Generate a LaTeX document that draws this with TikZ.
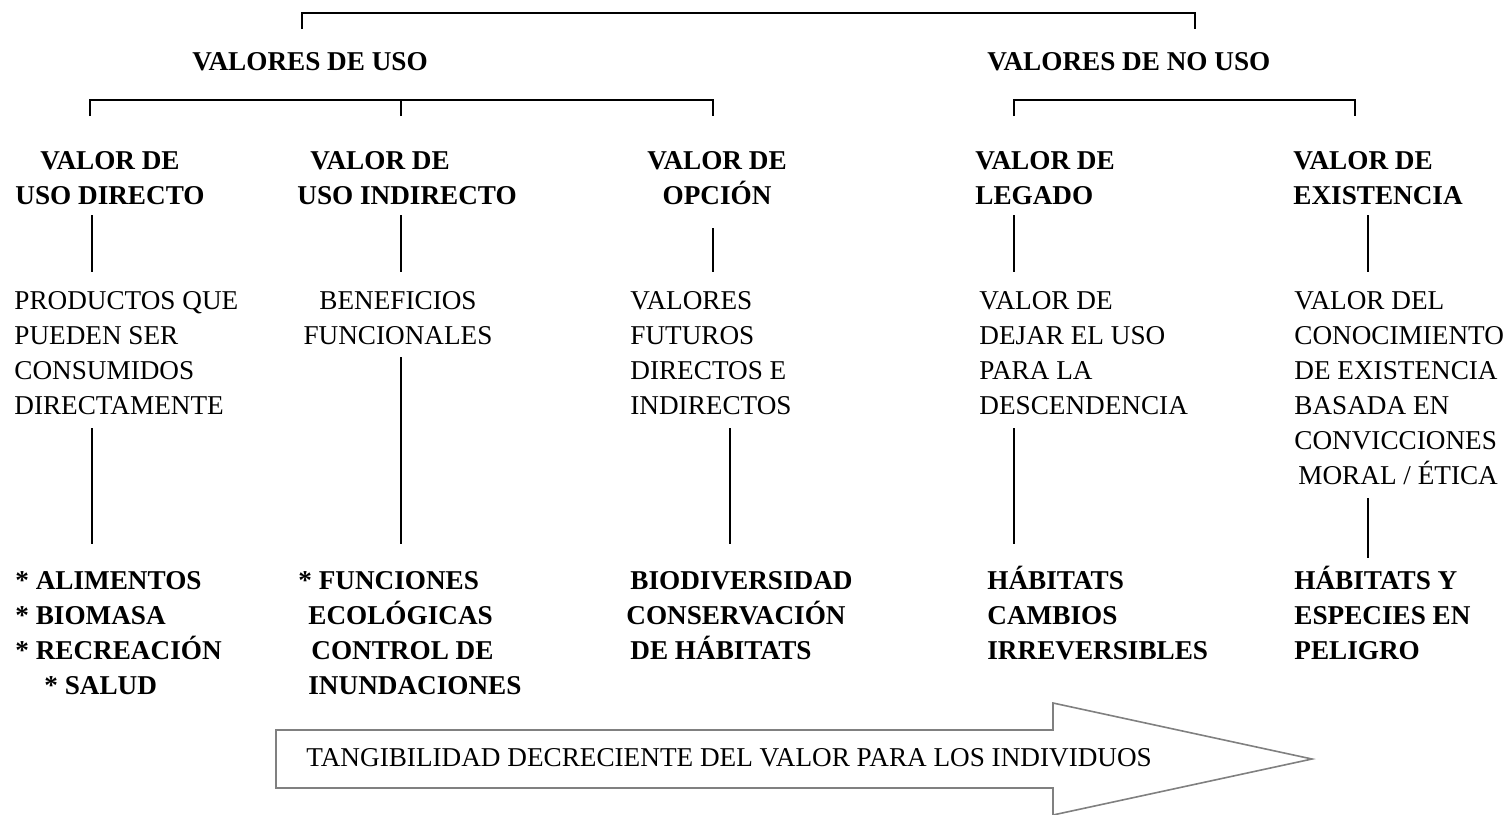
\documentclass[tikz,border=0pt]{standalone}
\usepackage{fontspec}
\setmainfont{Liberation Serif}

\begin{document}
\begin{tikzpicture}[x=0.5pt,y=-0.5pt,
	every node/.style={inner sep=0pt,font=\fontsize{13.6}{17.5}\selectfont},
	hd/.style={font=\fontsize{13.6}{17.5}\selectfont\bfseries},
	cell/.style={anchor=north west,align=left,execute at begin node=\strut},
	link/.style={line width=0.9pt},
	arrowline/.style={draw=black!50,line width=0.8pt}]
	\useasboundingbox (0,0) rectangle (1510,814);

	% first level
	\node[hd,cell] (uso) at (192,45.5) {VALORES DE USO};
	\node[hd,cell] (nouso) at (987,45.5) {VALORES DE NO USO};

	% second level
	\node[hd,cell,anchor=north,align=center] (vdir) at (110,151.5) {VALOR DE\\USO DIRECTO};
	\node[hd,cell] (vind) at (297,151.5) {\hspace*{6.5pt}VALOR DE\\USO INDIRECTO};
	\node[hd,cell,anchor=north,align=center] (vopc) at (717,151.5) {VALOR DE\\OPCIÓN};
	\node[hd,cell] (vleg) at (975,151.5) {VALOR DE\\LEGADO};
	\node[hd,cell] (vexi) at (1293,151.5) {VALOR DE\\EXISTENCIA};

	% third level
	\node[cell] (prod) at (14,291.5) {PRODUCTOS QUE\\PUEDEN SER\\CONSUMIDOS\\DIRECTAMENTE};
	\node[cell,anchor=north,align=center] (bene) at (398,291.5) {BENEFICIOS\\FUNCIONALES};
	\node[cell] (futu) at (630,291.5) {VALORES\\FUTUROS\\DIRECTOS E\\INDIRECTOS};
	\node[cell] (dejar) at (979,291.5) {VALOR DE\\DEJAR EL USO\\PARA LA\\DESCENDENCIA};
	\node[cell] (conoc) at (1294,291.5) {VALOR DEL\\CONOCIMIENTO\\DE EXISTENCIA\\BASADA EN\\CONVICCIONES\\\hspace*{2pt}MORAL / ÉTICA};

	% fourth level
	\node[hd,cell] (alim) at (15,571.5) {* ALIMENTOS\\* BIOMASA\\* RECREACIÓN\\\hspace*{14.5pt}* SALUD};
	\node[hd,cell] (func) at (298,571.5) {* FUNCIONES\\\hspace*{5pt}ECOLÓGICAS\\\hspace*{6.5pt}CONTROL DE\\\hspace*{5pt}INUNDACIONES};
	\node[hd,cell] (biod) at (626,571.5) {\hspace*{2pt}BIODIVERSIDAD\\CONSERVACIÓN\\\hspace*{2pt}DE HÁBITATS};
	\node[hd,cell] (habi) at (987,565.5) {HÁBITATS\\CAMBIOS\\IRREVERSIBLES};
	\node[hd,cell] (peli) at (1294,565.5) {HÁBITATS Y\\ESPECIES EN\\PELIGRO};

	% brackets
	\coordinate (top1) at (302,29);
	\coordinate (top2) at (1195,29);
	\coordinate (uso1) at (90,116);
	\coordinate (uso2) at (401,116);
	\coordinate (uso3) at (713,116);
	\coordinate (nouso1) at (1014,116);
	\coordinate (nouso2) at (1355,116);
	\draw[link] (top1) -- ++(0,-16) -| (top2);
	\draw[link] (uso1) -- ++(0,-16) -| (uso3);
	\draw[link] (uso2) -- ++(0,-16);
	\draw[link] (nouso1) -- ++(0,-16) -| (nouso2);

	% links second to third level
	\coordinate (vdir-b) at (92,215);    \coordinate (prod-t) at (92,272);
	\coordinate (vind-b) at (401,215);   \coordinate (bene-t) at (401,272);
	\coordinate (vopc-b) at (713,228);   \coordinate (futu-t) at (713,272);
	\coordinate (vleg-b) at (1014,215);  \coordinate (dejar-t) at (1014,272);
	\coordinate (vexi-b) at (1368,215);  \coordinate (conoc-t) at (1368,272);
	\draw[link] (vdir-b) -- (prod-t);
	\draw[link] (vind-b) -- (bene-t);
	\draw[link] (vopc-b) -- (futu-t);
	\draw[link] (vleg-b) -- (dejar-t);
	\draw[link] (vexi-b) -- (conoc-t);

	% links third to fourth level
	\coordinate (prod-b) at (92,428);    \coordinate (alim-t) at (92,544);
	\coordinate (bene-b) at (401,357);   \coordinate (func-t) at (401,544);
	\coordinate (futu-b) at (730,428);   \coordinate (biod-t) at (730,544);
	\coordinate (dejar-b) at (1014,428); \coordinate (habi-t) at (1014,544);
	\coordinate (conoc-b) at (1368,498); \coordinate (peli-t) at (1368,558);
	\draw[link] (prod-b) -- (alim-t);
	\draw[link] (bene-b) -- (func-t);
	\draw[link] (futu-b) -- (biod-t);
	\draw[link] (dejar-b) -- (habi-t);
	\draw[link] (conoc-b) -- (peli-t);

	% arrow
	\draw[arrowline] (276,730) -- (1053,730) -- (1053,703) -- (1312,759) -- (1053,815) -- (1053,788) -- (276,788) -- cycle;
	\node[anchor=west] (tang) at (306,758) {TANGIBILIDAD DECRECIENTE DEL VALOR PARA LOS INDIVIDUOS};
\end{tikzpicture}
\end{document}
